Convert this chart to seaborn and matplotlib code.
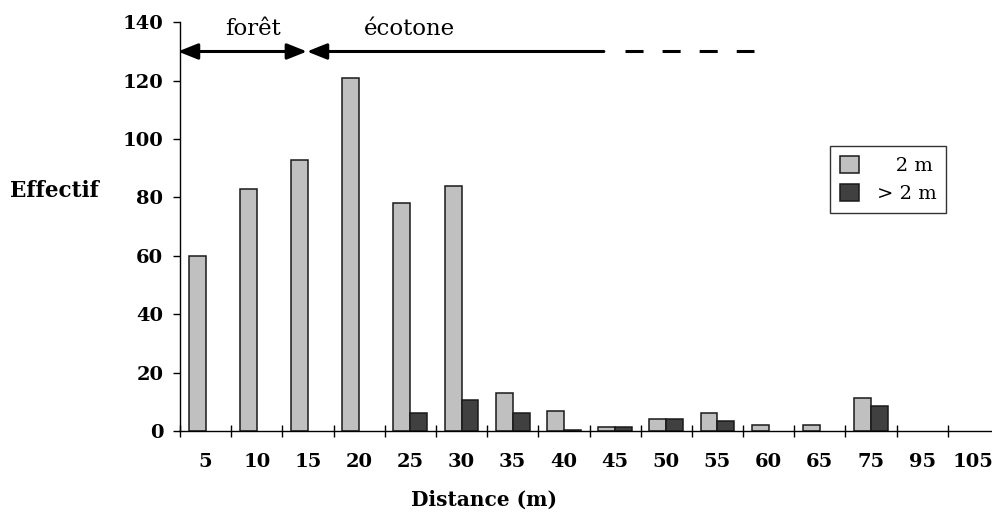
import matplotlib
matplotlib.use("Agg")
import matplotlib.pyplot as plt
import seaborn as sns
import pandas as pd

# Counts per distance class (m) for the two height classes
distances = ["5", "10", "15", "20", "25", "30", "35", "40", "45", "50",
             "55", "60", "65", "75", "95", "105"]
small_trees = [60, 83, 93, 121, 78, 84, 13, 7, 1.3, 4, 6, 2.2, 2.2, 11.3, 0, 0]
tall_trees = [0, 0, 0, 0, 6, 10.5, 6, 0.5, 1.5, 4, 3.3, 0, 0, 8.7, 0, 0]
classes = ["   2 m", "> 2 m"]
y_ticks = [0, 20, 40, 60, 80, 100, 120, 140]

df = pd.DataFrame({
    "distance": distances * 2,
    "effectif": small_trees + tall_trees,
    "classe": [classes[0]] * len(distances) + [classes[1]] * len(distances),
})

sns.set_theme(style="white")
plt.rcParams["font.family"] = ["DejaVu Serif"]
plt.rcParams["lines.scale_dashes"] = False
plt.rcParams["text.color"] = "black"
plt.rcParams["xtick.color"] = "black"
plt.rcParams["ytick.color"] = "black"
plt.rcParams["axes.labelcolor"] = "black"

fig = plt.figure(figsize=(9.92, 5.16), dpi=100)
ax = fig.add_axes([180 / 992, 85 / 516, 819 / 992, 408.7 / 516])

sns.barplot(data=df, x="distance", y="effectif", hue="classe",
            order=distances, hue_order=classes,
            palette=["#c0c0c0", "#404040"], width=0.66,
            edgecolor="#1a1a1a", linewidth=1.1, saturation=1,
            ax=ax)

leg = ax.legend(loc="upper left", bbox_to_anchor=(830 / 992, 1 - 146 / 516),
                bbox_transform=fig.transFigure, borderaxespad=0,
                frameon=True, fancybox=False, shadow=False,
                fontsize=14, handlelength=1.0, handleheight=1.0,
                handletextpad=0.9, labelspacing=0.45, borderpad=0.5)
leg.get_frame().set_edgecolor("black")
leg.get_frame().set_linewidth(1.0)
for handle in leg.legend_handles:
    handle.set_edgecolor("#1a1a1a")
    handle.set_linewidth(1.1)

# empty classes get no outline along the baseline
for bar in ax.patches:
    if bar.get_height() == 0:
        bar.set_linewidth(0)

ax.set_xlim(-0.5, len(distances) - 0.5)
ax.set_ylim(0, 140)
ax.set_yticks(y_ticks)
ax.set_xlabel("")
ax.set_ylabel("")

for side in ("top", "right"):
    ax.spines[side].set_visible(False)
for side in ("left", "bottom"):
    ax.spines[side].set_color("black")
    ax.spines[side].set_linewidth(1.0)

# category separators as crossing ticks, labels centred under each class
ax.set_xticks([i + 0.5 for i in range(-1, len(distances))], minor=True)
ax.tick_params(axis="x", which="minor", direction="inout", length=9,
               width=1.0, color="black", bottom=True)
ax.tick_params(axis="x", which="major", length=0, pad=16,
               labelsize=14)
ax.tick_params(axis="y", which="major", direction="out", length=5,
               width=1.0, color="black", left=True, pad=7, labelsize=14)
for lab in ax.get_xticklabels() + ax.get_yticklabels():
    lab.set_fontweight("bold")

# zone arrows along the top
arrow_kw = dict(arrowstyle="-|>,head_length=0.6,head_width=0.24",
                color="black", lw=2.2, shrinkA=0, shrinkB=0,
                mutation_scale=20)
ax.annotate("", xy=(-0.54, 130), xytext=(1.98, 130),
            arrowprops=dict(arrow_kw, arrowstyle="<|-|>,head_length=0.6,head_width=0.24"),
            annotation_clip=False)
ax.annotate("", xy=(1.98, 130), xytext=(7.78, 130), arrowprops=arrow_kw,
            annotation_clip=False)
ax.plot([8.19, 10.71], [130, 130], color="black", lw=2.2,
        dashes=(13, 13.7), solid_capstyle="butt", dash_capstyle="butt",
        clip_on=False)
ax.text(0.93, 137.7, "forêt", ha="center", va="center", fontsize=16.5)
ax.text(3.99, 137.7, "écotone", ha="center", va="center", fontsize=16.5)

fig.text(10 / 992, 1 - 191 / 516, "Effectif", ha="left", va="center",
         fontsize=15.5, fontweight="bold")
fig.text(484 / 992, 1 - 500 / 516, "Distance (m)", ha="center", va="center",
         fontsize=14.5, fontweight="bold")

fig.savefig("out.png", dpi=100)
